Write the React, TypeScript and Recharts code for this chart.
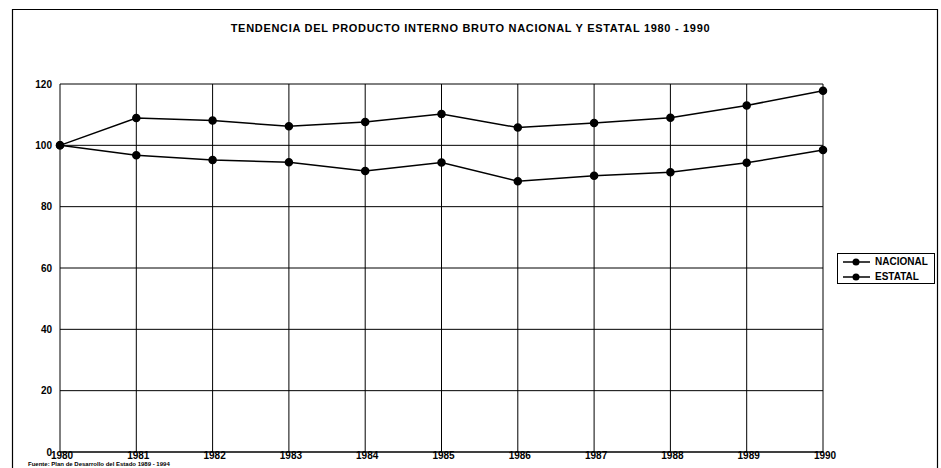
import React from "react";
import { LineChart, Line, XAxis, YAxis, CartesianGrid, Customized } from "recharts";

const years = [1980, 1981, 1982, 1983, 1984, 1985, 1986, 1987, 1988, 1989, 1990];
const nacional = [100, 108.9, 108.1, 106.2, 107.6, 110.2, 105.8, 107.3, 109.0, 113.0, 117.8];
const estatal = [100, 96.8, 95.2, 94.5, 91.6, 94.4, 88.3, 90.1, 91.2, 94.3, 98.5];
const yTicks = [0, 20, 40, 60, 80, 100, 120];
const seriesNames = ["NACIONAL", "ESTATAL"];

const data = years.map((year, i) => ({ year, nacional: nacional[i], estatal: estatal[i] }));

const font = "'Liberation Sans', Arial, sans-serif";

const Frame = () => (
  <path d="M12.5,470 L12.5,9.5 L937.5,9.5 L937.5,470" fill="none" stroke="#000" strokeWidth={1.2} />
);

const LegendRow = ({ label }: { label: string }) => (
  <div style={{ display: "flex", alignItems: "center", height: 15 }}>
    <svg width={27} height={10} style={{ marginRight: 5 }}>
      <line x1={0} y1={5} x2={27} y2={5} stroke="#000" strokeWidth={1.5} />
      <circle cx={13} cy={5} r={3.5} fill="#000" />
    </svg>
    <span>{label}</span>
  </div>
);

const App: React.FC = () => (
  <div style={{ position: "absolute", left: 0, top: 0, width: 941, height: 468, background: "#fff", fontFamily: font, overflow: "hidden" }}>
    <div style={{ position: "absolute", left: 0, top: 0 }}>
      <LineChart width={941} height={468} data={data} margin={{ top: 84, right: 118, left: 0, bottom: 2 }}>
        <Customized component={Frame} />
        <CartesianGrid stroke="#000" strokeWidth={1} verticalValues={years} horizontalValues={yTicks} />
        <XAxis
          dataKey="year"
          type="number"
          domain={[1980, 1990]}
          ticks={years}
          height={14}
          axisLine={{ stroke: "#000" }}
          tickLine={false}
          tickSize={0}
          tickMargin={0}
          tick={{ fill: "#000", fontSize: 10, fontWeight: "bold", fontFamily: font, dx: 2 }}
        />
        <YAxis
          domain={[0, 120]}
          ticks={yTicks}
          width={60}
          axisLine={false}
          tickLine={false}
          tick={{ fill: "#000", fontSize: 10, fontWeight: "bold", fontFamily: font }}
        />
        <Line dataKey="nacional" name={seriesNames[0]} stroke="#000" strokeWidth={1.5} dot={{ r: 3.5, fill: "#000", stroke: "#000" }} isAnimationActive={false} />
        <Line dataKey="estatal" name={seriesNames[1]} stroke="#000" strokeWidth={1.5} dot={{ r: 3.5, fill: "#000", stroke: "#000" }} isAnimationActive={false} />
      </LineChart>
    </div>
    <div style={{ position: "absolute", zIndex: 2, left: 0, width: 941, top: 22, textAlign: "center", fontSize: 11, letterSpacing: 0.7, fontWeight: "bold" }}>
      TENDENCIA DEL PRODUCTO INTERNO BRUTO NACIONAL Y ESTATAL 1980 - 1990
    </div>
    <div style={{ position: "absolute", zIndex: 2, left: 837, top: 253, width: 98, height: 31, border: "1px solid #000", fontSize: 10, fontWeight: "bold", padding: "0 0 0 5px", boxSizing: "border-box", background: "#fff" }}>
      {seriesNames.map((n) => (
        <LegendRow key={n} label={n} />
      ))}
    </div>
    <div style={{ position: "absolute", zIndex: 2, left: 28, top: 461, fontSize: 6, fontWeight: "bold", lineHeight: "7px", whiteSpace: "nowrap" }}>
      Fuente: Plan de Desarrollo del Estado 1989 - 1994
    </div>
  </div>
);

export default App;
